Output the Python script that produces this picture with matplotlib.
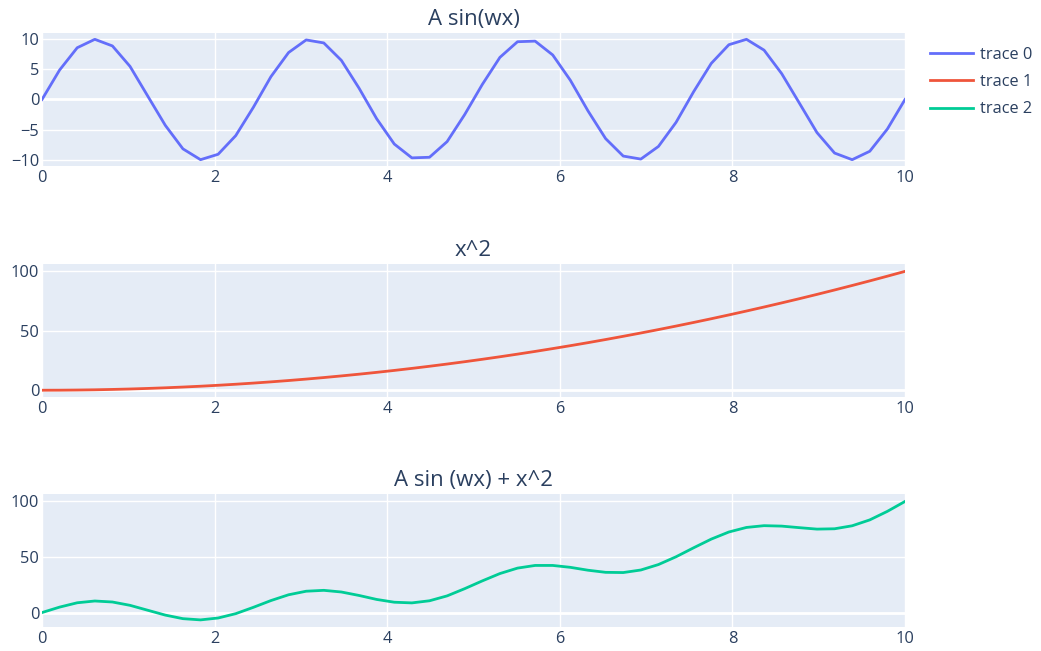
import matplotlib
matplotlib.use('Agg')
import matplotlib.pyplot as plt

plt.rcParams['font.family'] = ['Open Sans', 'DejaVu Sans']

# 50 samples from 0 to 10
x_vals = [
    0.0, 0.204, 0.408, 0.612, 0.816, 1.020, 1.224, 1.429, 1.633, 1.837,
    2.041, 2.245, 2.449, 2.653, 2.857, 3.061, 3.265, 3.469, 3.673, 3.878,
    4.082, 4.286, 4.490, 4.694, 4.898, 5.102, 5.306, 5.510, 5.714, 5.918,
    6.122, 6.327, 6.531, 6.735, 6.939, 7.143, 7.347, 7.551, 7.755, 7.959,
    8.163, 8.367, 8.571, 8.776, 8.980, 9.184, 9.388, 9.592, 9.796, 10.0,
]

sin_vals = [
    0.0, 4.9, 8.6, 10.0, 8.9, 5.5, 0.6, -4.3, -8.2, -10.0,
    -9.1, -6.0, -1.3, 3.8, 7.8, 9.9, 9.4, 6.5, 1.9, -3.2,
    -7.4, -9.7, -9.6, -7.0, -2.5, 2.5, 7.0, 9.6, 9.7, 7.4,
    3.2, -1.9, -6.5, -9.4, -9.9, -7.8, -3.8, 1.3, 6.0, 9.1,
    10.0, 8.2, 4.3, -0.6, -5.5, -8.9, -10.0, -8.6, -4.9, 0.0,
]

sq_vals = [
    0.0, 0.04, 0.17, 0.37, 0.67, 1.04, 1.50, 2.04, 2.67, 3.37,
    4.16, 5.04, 6.00, 7.04, 8.16, 9.37, 10.66, 12.04, 13.49, 15.04,
    16.66, 18.37, 20.16, 22.03, 23.99, 26.03, 28.15, 30.36, 32.65, 35.03,
    37.48, 40.02, 42.65, 45.36, 48.15, 51.02, 53.98, 57.02, 60.14, 63.35,
    66.64, 70.01, 73.47, 77.01, 80.63, 84.34, 88.13, 92.00, 95.96, 100.0,
]

sum_vals = [
    0.0, 4.9, 8.8, 10.4, 9.5, 6.5, 2.1, -2.3, -5.5, -6.6,
    -4.9, -1.0, 4.7, 10.8, 16.0, 19.2, 20.0, 18.5, 15.4, 11.8,
    9.3, 8.7, 10.6, 15.0, 21.5, 28.5, 35.1, 40.0, 42.4, 42.4,
    40.7, 38.1, 36.2, 36.0, 38.3, 43.2, 50.2, 58.3, 66.1, 72.5,
    76.6, 78.2, 77.8, 76.4, 75.1, 75.4, 78.1, 83.4, 91.1, 100.0,
]

titles = ['A sin(wx)', 'x^2', 'A sin (wx) + x^2']
trace_names = ['trace 0', 'trace 1', 'trace 2']
colors = ['#636efa', '#EF553B', '#00cc96']
y_ticks = [[-10, -5, 0, 5, 10], [0, 50, 100], [0, 50, 100]]
y_limits = [(-11.05, 11.05), (-5.7, 106.2), (-13.0, 106.7)]
x_ticks = [0, 2, 4, 6, 8, 10]

W, H = 1041, 651
fig = plt.figure(figsize=(W / 100, H / 100), dpi=100)

# plot areas in pixels: (top, bottom)
rows = [(33, 166), (264, 397), (494, 627)]
left_px, right_px = 42, 905

text_color = '#2a3f5f'
series = [sin_vals, sq_vals, sum_vals]
handles = []

for idx, (top, bottom) in enumerate(rows):
    ax = fig.add_axes([left_px / W, 1 - bottom / H, (right_px - left_px) / W, (bottom - top) / H])
    ax.set_facecolor('#E5ECF6')
    for s in ax.spines.values():
        s.set_visible(False)

    ax.set_xlim(0, 10)
    ax.set_ylim(*y_limits[idx])
    ax.set_xticks(x_ticks)
    ax.set_yticks(y_ticks[idx])
    ax.tick_params(length=0, labelsize=11.8, labelcolor=text_color, pad=3)
    ax.tick_params(axis='y', pad=2)

    ax.grid(True, color='white', linewidth=1.0)
    ax.set_axisbelow(True)
    ax.axhline(0, color='white', linewidth=2.0, zorder=1)

    line, = ax.plot(x_vals, series[idx], color=colors[idx], linewidth=2.0,
                    solid_joinstyle='round', label=trace_names[idx], zorder=3)
    handles.append(line)

    ax.set_title(titles[idx], fontsize=16, color=text_color, pad=6)

fig.legend(handles=handles, labels=trace_names, loc='upper left',
           bbox_to_anchor=(930 / W, 1 - 47 / H), frameon=False,
           fontsize=11.8, labelcolor=text_color, handlelength=2.6,
           handletextpad=0.45, labelspacing=0.68, borderaxespad=0, borderpad=0)

fig.savefig('out.png', dpi=100)
